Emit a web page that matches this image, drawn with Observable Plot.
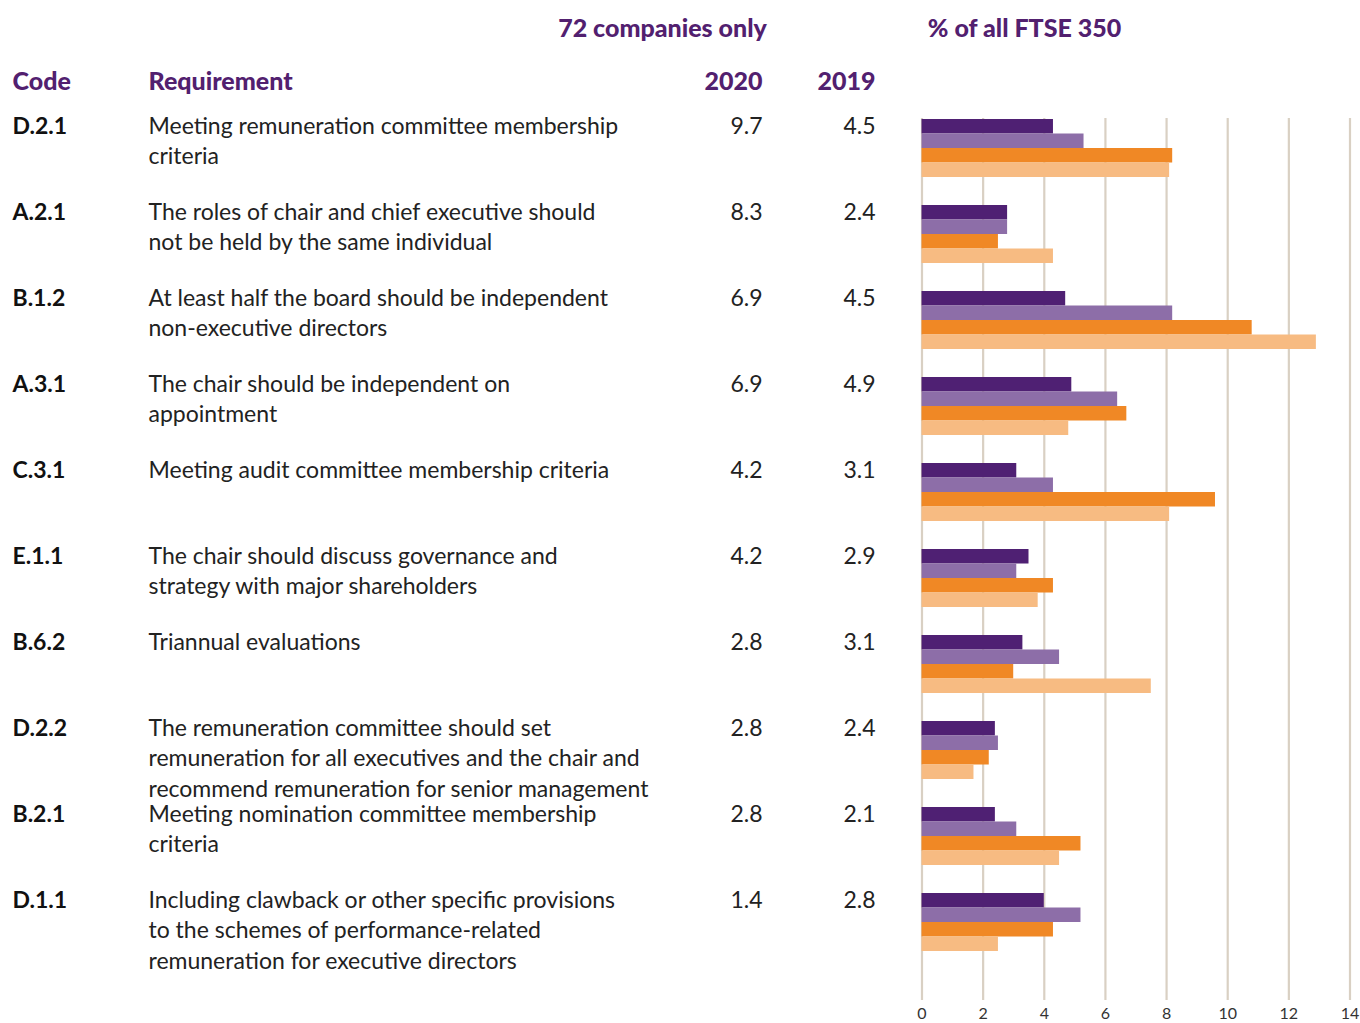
<!DOCTYPE html>
<html>
<head>
<meta charset="utf-8">
<script src="https://cdn.jsdelivr.net/npm/d3@7"></script>
<script src="https://cdn.jsdelivr.net/npm/@observablehq/plot@0.6"></script>
<style>
  html, body { margin: 0; padding: 0; background: #fff; }
  #chart svg { display: block; }
</style>
</head>
<body>
<div id="chart"></div>
<script>
// ---- Data ----
const codes = ["D.2.1", "A.2.1", "B.1.2", "A.3.1", "C.3.1", "E.1.1", "B.6.2", "D.2.2", "B.2.1", "D.1.1"];
const requirements = [
  "Meeting remuneration committee membership\ncriteria",
  "The roles of chair and chief executive should\nnot be held by the same individual",
  "At least half the board should be independent\nnon-executive directors",
  "The chair should be independent on\nappointment",
  "Meeting audit committee membership criteria",
  "The chair should discuss governance and\nstrategy with major shareholders",
  "Triannual evaluations",
  "The remuneration committee should set\nremuneration for all executives and the chair and\nrecommend remuneration for senior management",
  "Meeting nomination committee membership\ncriteria",
  "Including clawback or other specific provisions\nto the schemes of performance-related\nremuneration for executive directors"
];
const companies2020 = ["9.7", "8.3", "6.9", "6.9", "4.2", "4.2", "2.8", "2.8", "2.8", "1.4"];
const companies2019 = ["4.5", "2.4", "4.5", "4.9", "3.1", "2.9", "3.1", "2.4", "2.1", "2.8"];

// % of all FTSE 350 — four bar series (top to bottom within each group)
const ftseSeries1 = [4.3, 2.8, 4.7, 4.9, 3.1, 3.5, 3.3, 2.4, 2.4, 4.0];
const ftseSeries2 = [5.3, 2.8, 8.2, 6.4, 4.3, 3.1, 4.5, 2.5, 3.1, 5.2];
const ftseSeries3 = [8.2, 2.5, 10.8, 6.7, 9.6, 4.3, 3.0, 2.2, 5.2, 4.3];
const ftseSeries4 = [8.1, 4.3, 12.9, 4.8, 8.1, 3.8, 7.5, 1.7, 4.5, 2.5];

const xTicks = [0, 2, 4, 6, 8, 10, 12, 14];
const headerTop = "72 companies only";
const headerRight = "% of all FTSE 350";
const colHeaders = ["Code", "Requirement", "2020", "2019"];

// ---- Styles ----
const purple = "#52206f";
const seriesColors = ["#4f2073", "#8d6ea8", "#f08825", "#f7bb82"];
const font = "Lato, 'Open Sans', sans-serif";

const rows = codes.map((c, i) => ({
  code: c, req: requirements[i], v20: companies2020[i], v19: companies2019[i]
}));
const seriesList = [ftseSeries1, ftseSeries2, ftseSeries3, ftseSeries4];

const BW = 58; // band width
const barMarks = seriesList.map((s, k) =>
  Plot.barX(codes.map((c, i) => ({code: c, value: s[i]})), {
    y: "code", x: "value",
    fill: seriesColors[k],
    insetTop: k * BW / 4, insetBottom: (3 - k) * BW / 4
  })
);

const textCommon = {y: "code", frameAnchor: "left", fontFamily: font, fontSize: 23, lineAnchor: "top", lineHeight: 1.32, dy: -36};
const headStyle = {frameAnchor: "top-left", text: d => d, fontSize: 25, fontWeight: 900, fill: purple};

const chart = Plot.plot({
  width: 1360,
  height: 1023,
  marginTop: 118,
  marginBottom: 23,
  marginLeft: 0,
  marginRight: 0,
  style: {fontFamily: font, background: "#fff"},
  x: {domain: [0, 14], range: [921.5, 1349.5], label: null},
  y: {type: "band", domain: codes, range: [118, 952], paddingInner: 0.327, paddingOuter: 0, axis: null},
  marks: [
    Plot.gridX(xTicks, {stroke: "#d9d0c3", strokeOpacity: 1, strokeWidth: 2.2}),
    ...barMarks,
    Plot.axisX(xTicks, {anchor: "bottom", label: null, tickSize: 0, tickPadding: 7, fontSize: 16, fill: "#333", tickFormat: d => String(d)}),
    // table columns
    Plot.text(rows, {...textCommon, text: "code", dx: 12, fontWeight: "bold", fill: "#111", textAnchor: "start"}),
    Plot.text(rows, {...textCommon, text: "req", dx: 148, fill: "#222", textAnchor: "start"}),
    Plot.text(rows, {...textCommon, text: "v20", dx: 762, fill: "#222", textAnchor: "end"}),
    Plot.text(rows, {...textCommon, text: "v19", dx: 875, fill: "#222", textAnchor: "end"}),
    // headers
    Plot.text([headerTop], {...headStyle, dx: 662, dy: -99, textAnchor: "middle"}),
    Plot.text([headerRight], {...headStyle, dx: 1024, dy: -99, textAnchor: "middle"}),
    Plot.text([colHeaders[0]], {...headStyle, dx: 12, dy: -46, textAnchor: "start"}),
    Plot.text([colHeaders[1]], {...headStyle, dx: 148, dy: -46, textAnchor: "start"}),
    Plot.text([colHeaders[2]], {...headStyle, dx: 762, dy: -46, textAnchor: "end"}),
    Plot.text([colHeaders[3]], {...headStyle, dx: 875, dy: -46, textAnchor: "end"})
  ]
});
document.getElementById("chart").appendChild(chart);
</script>
</body>
</html>
